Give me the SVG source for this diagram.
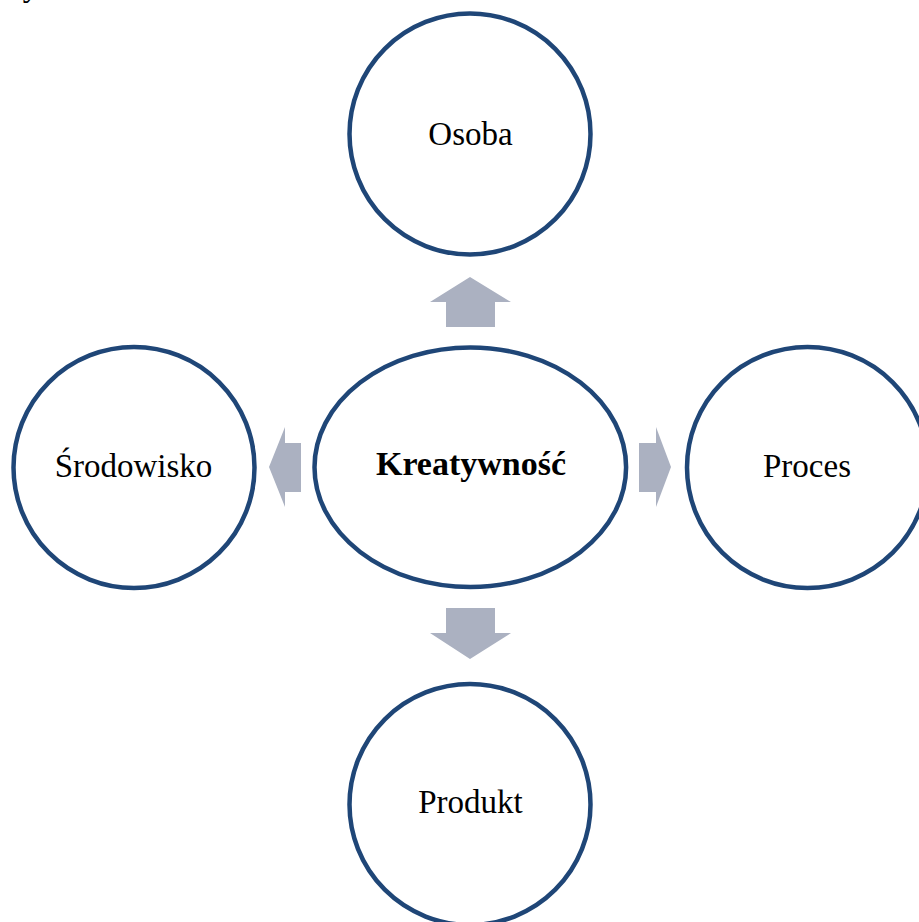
<svg xmlns="http://www.w3.org/2000/svg" width="919" height="922" viewBox="0 0 919 922">
  <style>
    .node { fill: #FFFFFF; stroke: #1F4677; stroke-width: 4.5; }
    .arrow { fill: #ABB1C1; stroke: none; }
    .label { font-family: "Liberation Serif", "DejaVu Serif", serif; font-size: 33px; fill: #000000; text-anchor: middle; }
    .bold { font-weight: bold; font-size: 34px; }
  </style>
  <rect width="919" height="922" fill="#FFFFFF"/>

  <!-- clipped descender of a heading line above the frame -->
  <text x="31" y="-4" class="label" font-size="24">y</text>

  <g id="connectors">
    <!-- up: centre to Osoba -->
    <polygon class="arrow" points="470,277 511,302 495,302 495,327 446,327 446,302 430,302"/>
    <!-- down: centre to Produkt -->
    <polygon class="arrow" points="446,608 495,608 495,633 511,633 470,659 430,633 446,633"/>
    <!-- left: centre to Srodowisko -->
    <polygon class="arrow" points="269,467 285,427 285,443 301,443 301,492 285,492 285,507"/>
    <!-- right: centre to Proces -->
    <polygon class="arrow" points="639,443 656,443 656,427 671,467 656,507 656,492 639,492"/>
  </g>

  <g id="node-kreatywnosc">
    <ellipse class="node" cx="470.3" cy="467.2" rx="155.8" ry="119.8"/>
    <text class="label bold" x="471" y="475">Kreatywność</text>
  </g>

  <g id="node-osoba">
    <circle class="node" cx="470" cy="134" r="120.5"/>
    <text class="label" x="470.5" y="145">Osoba</text>
  </g>

  <g id="node-srodowisko">
    <circle class="node" cx="134" cy="467.5" r="120.5"/>
    <text class="label" x="133.5" y="476.5">Środowisko</text>
  </g>

  <g id="node-proces">
    <circle class="node" cx="807.5" cy="467.5" r="120.5"/>
    <text class="label" x="807" y="476.5">Proces</text>
  </g>

  <g id="node-produkt">
    <circle class="node" cx="470" cy="804.5" r="120.5"/>
    <text class="label" x="470.5" y="813">Produkt</text>
  </g>
</svg>
